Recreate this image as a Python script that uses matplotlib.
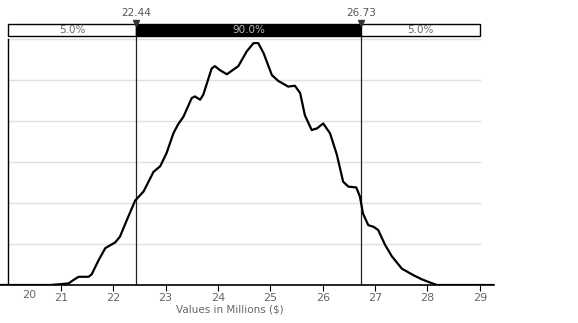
import matplotlib
matplotlib.use("Agg")
import matplotlib.pyplot as plt

# simulated outcome density (values in millions of $)
values = [19.84, 20.80, 20.99, 21.15, 21.24, 21.34, 21.53, 21.59, 21.72, 21.85,
          22.04, 22.13, 22.26, 22.42, 22.58, 22.77, 22.90, 23.02, 23.15, 23.24,
          23.34, 23.50, 23.56, 23.66, 23.72, 23.88, 23.94, 24.04, 24.17, 24.39,
          24.55, 24.68, 24.77, 24.87, 24.90, 25.03, 25.15, 25.34, 25.47, 25.57,
          25.66, 25.79, 25.89, 26.01, 26.14, 26.27, 26.39, 26.49, 26.64, 26.71,
          26.77, 26.87, 26.97, 27.06, 27.19, 27.32, 27.51, 27.73, 27.89, 28.05,
          28.18, 29.27]
density = [0.0, 0.0, 0.001, 0.002, 0.006, 0.010, 0.010, 0.013, 0.030, 0.045,
           0.052, 0.059, 0.079, 0.103, 0.114, 0.138, 0.145, 0.161, 0.185, 0.196,
           0.205, 0.228, 0.230, 0.226, 0.232, 0.264, 0.267, 0.262, 0.257, 0.267,
           0.285, 0.295, 0.295, 0.283, 0.278, 0.256, 0.249, 0.242, 0.243, 0.234,
           0.207, 0.189, 0.191, 0.197, 0.185, 0.159, 0.126, 0.120, 0.119, 0.108,
           0.087, 0.073, 0.071, 0.067, 0.049, 0.035, 0.020, 0.012, 0.007, 0.003,
           0.0, 0.0]

lower, upper = 22.44, 26.73
band_labels = ["5.0%", "90.0%", "5.0%"]
x_min, x_max = 20, 29
ticks = [21, 22, 23, 24, 25, 26, 27, 28, 29]
grid_levels = [0.05, 0.10, 0.15, 0.20, 0.25, 0.30]

fig = plt.figure(figsize=(5.78, 3.23), dpi=100)
ax = fig.add_axes([0, 38 / 323, 494 / 578, 285 / 323])
ax.set_xlim(19.84, 29.27)
ax.set_ylim(0, 0.3476)

for g in grid_levels:
    ax.plot([x_min, x_max], [g, g], color="#e0e0e0", lw=1, zorder=1)

ax.plot([x_min, x_min], [0, 0.30], color="black", lw=1, zorder=2)

box_lo, box_hi = 0.3037, 0.3183
for v in (lower, upper):
    ax.plot([v, v], [0, box_lo], color="#222222", lw=0.9, zorder=2)

ax.plot(values, density, color="black", lw=1.6, zorder=3,
        solid_joinstyle="round")

# band bar across the top
edges = [x_min, lower, upper, x_max]
for i, lab in enumerate(band_labels):
    dark = i == 1
    ax.fill([edges[i], edges[i + 1], edges[i + 1], edges[i]],
            [box_lo, box_lo, box_hi, box_hi],
            facecolor="black" if dark else "white", edgecolor="black",
            lw=1, zorder=4, clip_on=False)
    ax.text((edges[i] + edges[i + 1]) / 2, (box_lo + box_hi) / 2, lab,
            ha="center", va="center", fontsize=7.5,
            color="#bbbbbb" if dark else "#666666", zorder=5)

for v in (lower, upper):
    ax.plot([v], [box_hi + 0.001], marker="v", color="#333333", ms=5,
            zorder=6, clip_on=False)
    ax.text(v, box_hi + 0.0075, f"{v:.2f}", ha="center", va="bottom",
            fontsize=7.5, color="#555555")

for s in ("top", "right", "left"):
    ax.spines[s].set_visible(False)
ax.spines["bottom"].set_linewidth(1.2)
ax.set_yticks([])
ax.set_xticks(ticks)
ax.set_xticklabels([str(t) for t in ticks])
ax.tick_params(axis="x", length=4, width=0.8, colors="black",
               labelcolor="#666666", labelsize=8, pad=1.5)
ax.text(20.40, -0.0125, "20", ha="center", va="center", fontsize=8,
        color="#666666")
fig.text(230 / 578, 1 - 309 / 323, "Values in Millions ($)", ha="center",
         va="center", fontsize=7.5, color="#666666")

fig.savefig("out.png", dpi=100)
